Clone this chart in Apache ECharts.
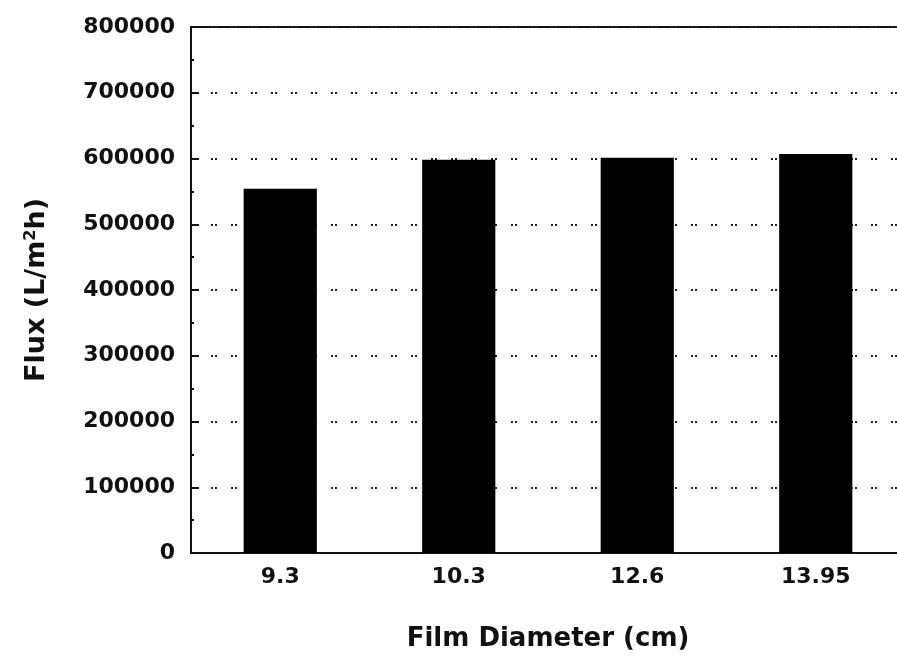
<!DOCTYPE html>
<html>
<head>
<meta charset="utf-8">
<script src="https://cdn.jsdelivr.net/npm/echarts@6/dist/echarts.min.js"></script>
<style>html,body{margin:0;padding:0;background:#fff;overflow:hidden;width:897px;height:657px;}#c{width:906px;height:657px;}</style>
</head>
<body>
<div id="c"></div>
<script>
const categories = ['9.3', '10.3', '12.6', '13.95'];
const fluxValues = [554000, 598000, 601000, 607000];
const yTicks = { min: 0, max: 800000, interval: 100000 };

const FONT = 'DejaVu Sans';
const chart = echarts.init(document.getElementById('c'), null, { renderer: 'canvas' });
chart.setOption({
  animation: false,
  backgroundColor: '#fff',
  grid: { left: 191, top: 27, right: 1, bottom: 104, show: true, borderColor: '#111', borderWidth: 2 },
  xAxis: {
    type: 'category',
    data: categories,
    name: 'Film Diameter (cm)',
    nameLocation: 'middle',
    nameGap: 73,
    nameTextStyle: { fontFamily: FONT, fontWeight: 'bold', fontSize: 26, color: '#111' },
    axisLine: { lineStyle: { color: '#111', width: 2 } },
    axisTick: { show: false },
    axisLabel: { fontFamily: FONT, fontWeight: 'bold', fontSize: 22, color: '#111', margin: 13 },
    splitLine: { show: false }
  },
  yAxis: {
    type: 'value',
    min: yTicks.min, max: yTicks.max, interval: yTicks.interval,
    name: 'Flux (L/m{sup|2}h)',
    nameLocation: 'middle',
    nameGap: 140,
    nameRotate: 90,
    nameTextStyle: {
      fontFamily: FONT, fontWeight: 'bold', fontSize: 27, color: '#111',
      rich: { sup: { fontFamily: FONT, fontWeight: 'bold', fontSize: 16, color: '#111', verticalAlign: 'top', padding: [0, 0, 12, 0] } }
    },
    axisLine: { show: true, lineStyle: { color: '#111', width: 2 } },
    axisTick: { show: true, inside: true, length: 8, lineStyle: { color: '#111', width: 2 } },
    minorTick: { show: true, splitNumber: 2, length: 3, lineStyle: { color: '#111', width: 2 } },
    axisLabel: { fontFamily: FONT, fontWeight: 'bold', fontSize: 22, color: '#111', margin: 16, formatter: (v) => String(v) },
    splitLine: { show: true, lineStyle: { color: '#222', width: 2, type: [2, 2, 2, 14] } }
  },
  series: [{
    type: 'bar',
    data: fluxValues,
    barWidth: '41%',
    itemStyle: { color: '#000' }
  }]
});
</script>
</body>
</html>
